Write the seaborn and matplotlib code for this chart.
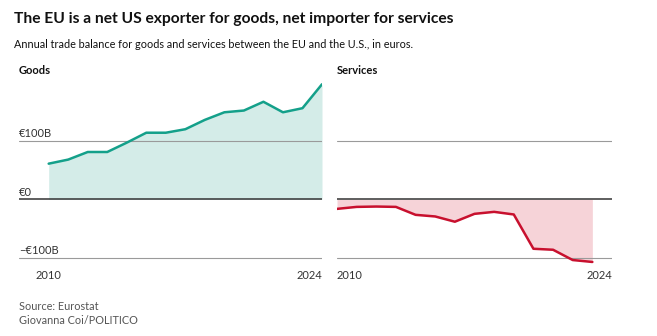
import matplotlib
matplotlib.use("Agg")
import matplotlib.pyplot as plt
import matplotlib.transforms as mtransforms
import pandas as pd
import seaborn as sns

# Annual EU–US trade balance, billions of euros
goods_years = list(range(2010, 2025))
goods_balance = [61, 68, 81, 81, 97, 114, 114, 120, 136, 149, 152, 167, 149, 156, 197]

services_years = list(range(2010, 2024))
services_balance = [-16.4, -13, -12.4, -13, -26.6, -29.4, -38.4, -24.9, -21.5, -26,
                    -84.7, -86.4, -104, -107.3]

y_ticks = [100, 0, -100]
y_tick_labels = ["€100B", "€0", "\u2212€100B"]

GOODS_LINE = "#14a08a"
GOODS_FILL = "#d4ece8"
SERV_LINE = "#c8102e"
SERV_FILL = "#f6d3d8"

sns.set_theme(style="white")
plt.rcParams["font.family"] = ["Lato", "DejaVu Sans"]

W, H = 657, 336
fig = plt.figure(figsize=(W / 100, H / 100), dpi=100)
renderer = fig.canvas.get_renderer()


def px_axes(x0, x1, ytop, ybot):
    return fig.add_axes([x0 / W, 1 - ybot / H, (x1 - x0) / W, (ybot - ytop) / H])


def fit_text(x, y, s, width_px, **kw):
    """Place a text and scale its size so it spans width_px pixels."""
    t = fig.text(x / W, 1 - y / H, s, ha="left", va="center", **kw)
    w = t.get_window_extent(renderer).width
    t.set_fontsize(t.get_fontsize() * width_px / w)
    return t


# axes span y from 200 (top) to -115 (bottom); -100 gridline sits at y=257.7 px
px_per_b = (257.7 - 199.3) / 100
y_top = 199.3 - 200 * px_per_b
y_bot = 199.3 + 115 * px_per_b
ax_g = px_axes(19, 322, y_top, y_bot)
ax_s = px_axes(337, 612, y_top, y_bot)

goods = pd.DataFrame({"year": goods_years, "balance": goods_balance})
services = pd.DataFrame({"year": services_years, "balance": services_balance})

for ax, df, lc, fc, xlim in [
    (ax_g, goods, GOODS_LINE, GOODS_FILL, (2008.48, 2024)),
    (ax_s, services, SERV_LINE, SERV_FILL, (2010, 2024)),
]:
    ax.fill_between(df["year"], 0, df["balance"], color=fc, lw=0, zorder=1)
    for v in (100, -100):
        ax.axhline(v, color="#9a9a9a", lw=0.8, zorder=2)
    ax.axhline(0, color="#333333", lw=1.1, zorder=2)
    sns.lineplot(data=df, x="year", y="balance", ax=ax, color=lc, lw=1.8,
                 zorder=3, legend=False)
    ax.set_xlim(*xlim)
    ax.set_ylim(-115, 200)
    ax.set_xticks([])
    ax.set_yticks([])
    ax.set_xlabel("")
    ax.set_ylabel("")
    for s in ax.spines.values():
        s.set_visible(False)
    ax.patch.set_alpha(0)

# y-axis value labels above the gridlines in the goods panel
trans = mtransforms.blended_transform_factory(ax_g.transAxes, ax_g.transData)
for v, lab in zip(y_ticks, y_tick_labels):
    ax_g.text(0, v + 3, lab, transform=trans, ha="left", va="bottom",
              fontsize=8, color="#333333")

# year labels under each panel
for ax, yr, ha in [(ax_g, goods_years[0], "center"), (ax_g, 2024, "right"),
                   (ax_s, services_years[0], "left"), (ax_s, 2024, "right")]:
    ax.annotate(str(yr), xy=(yr, -100), xytext=(0, -8.5),
                textcoords="offset points", ha=ha, va="top",
                fontsize=8, color="#333333", annotation_clip=False)

# titles and notes
fit_text(14, 19, "The EU is a net US exporter for goods, net importer for services",
         440, fontsize=13, fontweight="bold", color="#111111")
fig.text(14 / W, 1 - 45 / H,
         "Annual trade balance for goods and services between the EU and the U.S., in euros.",
         ha="left", va="center", fontsize=7.8, color="#111111")
fig.text(19 / W, 1 - 71 / H, "Goods", ha="left", va="center", fontsize=8,
         fontweight="bold", color="#111111")
fig.text(337 / W, 1 - 71 / H, "Services", ha="left", va="center", fontsize=8,
         fontweight="bold", color="#111111")
fig.text(19 / W, 1 - 306 / H, "Source: Eurostat", ha="left", va="center",
         fontsize=7.8, color="#555555")
fig.text(19 / W, 1 - 321 / H, "Giovanna Coi/POLITICO", ha="left", va="center",
         fontsize=7.8, color="#555555")

fig.savefig("out.png", dpi=100, facecolor="white")
